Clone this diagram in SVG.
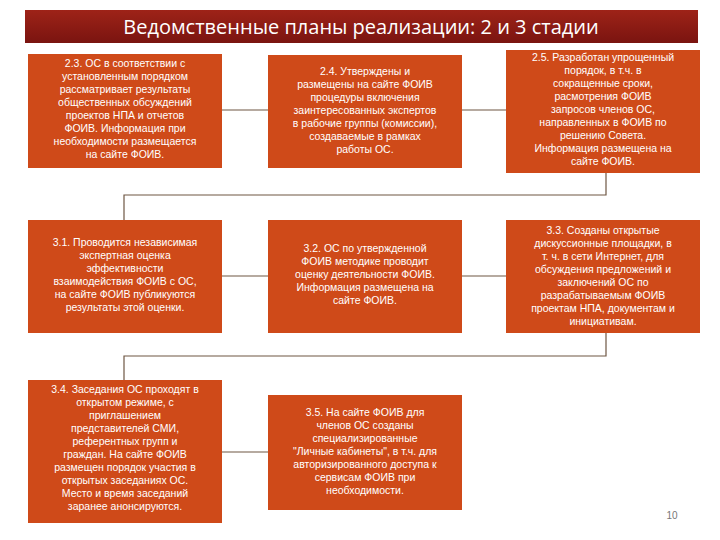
<svg xmlns="http://www.w3.org/2000/svg" width="720" height="540" viewBox="0 0 720 540">
<defs>
<linearGradient id="tg" x1="0" y1="0" x2="0" y2="1"><stop offset="0" stop-color="#9e2318"/><stop offset="1" stop-color="#7a1410"/></linearGradient>
<style>
.b{fill:#cf4a19}
.t{font-family:"Liberation Sans",Arial,sans-serif;font-size:10.5px;fill:#fff;text-anchor:middle}
.c{stroke:#6e5643;stroke-width:1.2;fill:none}
</style>
</defs>
<rect width="720" height="540" fill="#fff"/>
<g id="title"><rect x="25" y="10" width="673" height="33" fill="url(#tg)"/>
<text x="361" y="34" font-family="'Open Sans','Liberation Sans',sans-serif" font-size="20" fill="#fff" text-anchor="middle">Ведомственные планы реализации: 2 и 3 стадии</text></g>
<g id="connectors" class="c">
<path d="M222 110H268M462 110H506M222 276H268M462 276H506M222 452H268"/>
<path d="M606 173V195H124V220M606 333V356H124V380"/>
</g>
<g id="n23"><rect class="b" x="28" y="54" width="194" height="114"/>
<text class="t"><tspan x="125" y="67">2.3. ОС в соответствии с</tspan><tspan x="125" y="80">установленным порядком</tspan><tspan x="125" y="93">рассматривает результаты</tspan><tspan x="125" y="106">общественных обсуждений</tspan><tspan x="125" y="119">проектов НПА и отчетов</tspan><tspan x="125" y="132">ФОИВ. Информация при</tspan><tspan x="125" y="145">необходимости размещается</tspan><tspan x="125" y="158">на сайте ФОИВ.</tspan></text></g>
<g id="n24"><rect class="b" x="268" y="55" width="194" height="113"/>
<text class="t"><tspan x="365" y="75">2.4. Утверждены и</tspan><tspan x="365" y="88">размещены на сайте ФОИВ</tspan><tspan x="365" y="101">процедуры включения</tspan><tspan x="365" y="114">заинтересованных экспертов</tspan><tspan x="365" y="127">в рабочие группы (комиссии),</tspan><tspan x="365" y="140">создаваемые в рамках</tspan><tspan x="365" y="153">работы ОС.</tspan></text></g>
<g id="n25"><rect class="b" x="506" y="50" width="194" height="123"/>
<text class="t"><tspan x="603" y="61">2.5. Разработан упрощенный</tspan><tspan x="603" y="74">порядок, в т.ч. в</tspan><tspan x="603" y="87">сокращенные сроки,</tspan><tspan x="603" y="100">расмотрения ФОИВ</tspan><tspan x="603" y="113">запросов членов ОС,</tspan><tspan x="603" y="126">направленных в ФОИВ по</tspan><tspan x="603" y="139">решению Совета.</tspan><tspan x="603" y="152">Информация размещена на</tspan><tspan x="603" y="165">сайте ФОИВ.</tspan></text></g>
<g id="n31"><rect class="b" x="28" y="220" width="194" height="113"/>
<text class="t"><tspan x="125" y="246">3.1. Проводится независимая</tspan><tspan x="125" y="259">экспертная оценка</tspan><tspan x="125" y="272">эффективности</tspan><tspan x="125" y="285">взаимодействия ФОИВ с ОС,</tspan><tspan x="125" y="298">на сайте ФОИВ публикуются</tspan><tspan x="125" y="311">результаты этой оценки.</tspan></text></g>
<g id="n32"><rect class="b" x="268" y="220" width="194" height="113"/>
<text class="t"><tspan x="365" y="252">3.2. ОС по утвержденной</tspan><tspan x="365" y="265">ФОИВ методике проводит</tspan><tspan x="365" y="278">оценку деятельности ФОИВ.</tspan><tspan x="365" y="291">Информация размещена на</tspan><tspan x="365" y="304">сайте ФОИВ.</tspan></text></g>
<g id="n33"><rect class="b" x="506" y="220" width="194" height="113"/>
<text class="t"><tspan x="603" y="234">3.3. Созданы открытые</tspan><tspan x="603" y="247">дискуссионные площадки, в</tspan><tspan x="603" y="260">т. ч. в сети Интернет, для</tspan><tspan x="603" y="273">обсуждения предложений и</tspan><tspan x="603" y="286">заключений ОС по</tspan><tspan x="603" y="299">разрабатываемым ФОИВ</tspan><tspan x="603" y="312">проектам НПА, документам и</tspan><tspan x="603" y="325">инициативам.</tspan></text></g>
<g id="n34"><rect class="b" x="28" y="380" width="194" height="143"/>
<text class="t"><tspan x="125" y="393">3.4. Заседания ОС проходят в</tspan><tspan x="125" y="406">открытом режиме, с</tspan><tspan x="125" y="419">приглашением</tspan><tspan x="125" y="432">представителей СМИ,</tspan><tspan x="125" y="445">референтных групп и</tspan><tspan x="125" y="458">граждан. На сайте ФОИВ</tspan><tspan x="125" y="471">размещен порядок участия в</tspan><tspan x="125" y="484">открытых заседаниях ОС.</tspan><tspan x="125" y="497">Место и время заседаний</tspan><tspan x="125" y="510">заранее анонсируются.</tspan></text></g>
<g id="n35"><rect class="b" x="268" y="395" width="194" height="115"/>
<text class="t"><tspan x="365" y="416">3.5. На сайте ФОИВ для</tspan><tspan x="365" y="429">членов ОС созданы</tspan><tspan x="365" y="442">специализированные</tspan><tspan x="365" y="455">"Личные кабинеты", в т.ч. для</tspan><tspan x="365" y="468">авторизированного доступа к</tspan><tspan x="365" y="481">сервисам ФОИВ при</tspan><tspan x="365" y="494">необходимости.</tspan></text></g>
<text x="672" y="519" font-family="'Liberation Sans',sans-serif" font-size="10" fill="#777" text-anchor="middle">10</text>
</svg>
